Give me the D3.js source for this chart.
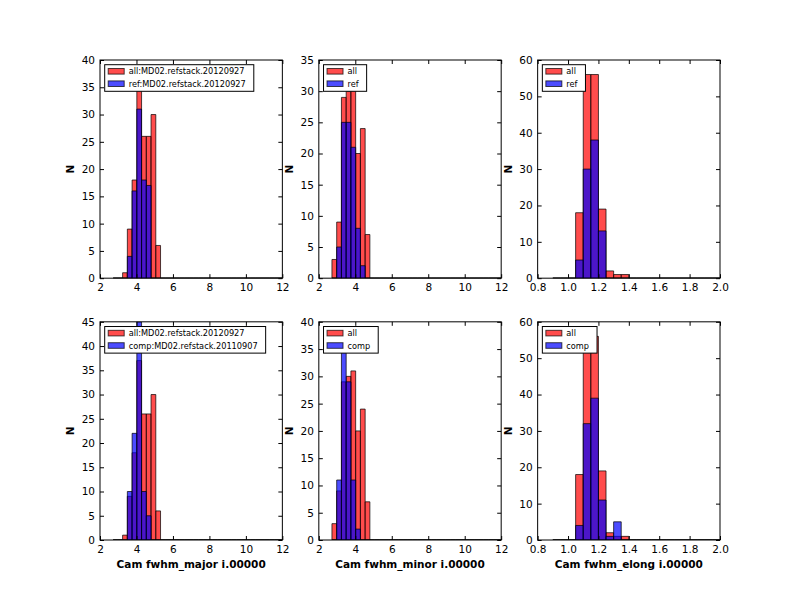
<!DOCTYPE html>
<html>
<head>
<meta charset="utf-8">
<script src="https://cdn.jsdelivr.net/npm/d3@7"></script>
<style>
  body { margin: 0; background: #fff; }
  svg { font-family: "DejaVu Sans", sans-serif; }
</style>
</head>
<body>
<svg id="chart" width="800" height="600"></svg>
<script>
// histogram bins (fwhm_major and fwhm_minor share the same bins)
const fwhmBinStart = 2.72;
const fwhmBinWidth = 0.26;
const elongBinStart = 0.90;
const elongBinWidth = 0.05;

// counts per bin
const majorAll  = [0, 0, 1, 9, 18, 37, 26, 26, 30, 6, 0, 0, 0, 0, 0, 0, 0, 0, 0, 0, 0, 0, 0, 0, 0, 0, 0, 0, 0, 0, 0, 0, 0, 0, 0, 0];
const majorRef  = [0, 0, 0, 4, 16, 31, 18, 17, 0, 0, 0, 0, 0, 0, 0, 0, 0, 0, 0, 0, 0, 0, 0, 0, 0, 0, 0, 0, 0, 0, 0, 0, 0, 0, 0, 0];
const majorComp = [0, 0, 0, 10, 22, 45, 10, 5, 0, 0, 0, 0, 0, 0, 0, 0, 0, 0, 0, 0, 0, 0, 0, 0, 0, 0, 0, 0, 0, 0, 0, 0, 0, 0, 0, 0];
const minorAll  = [3, 9, 29, 30, 31, 20, 24, 7, 0, 0, 0, 0, 0, 0, 0, 0, 0, 0, 0, 0, 0, 0, 0, 0, 0, 0, 0, 0, 0, 0, 0, 0, 0, 0, 0, 0];
const minorRef  = [0, 5, 25, 25, 21, 8, 2, 0, 0, 0, 0, 0, 0, 0, 0, 0, 0, 0, 0, 0, 0, 0, 0, 0, 0, 0, 0, 0, 0, 0, 0, 0, 0, 0, 0, 0];
const minorComp = [0, 11, 39, 29, 11, 2, 0, 0, 0, 0, 0, 0, 0, 0, 0, 0, 0, 0, 0, 0, 0, 0, 0, 0, 0, 0, 0, 0, 0, 0, 0, 0, 0, 0, 0, 0];
const elongAll  = [0, 0, 0, 18, 56, 56, 19, 2, 1, 1, 0, 0, 0, 0, 0, 0, 0, 0, 0, 0, 0, 0];
const elongRef  = [0, 0, 0, 5, 30, 38, 13, 0, 0, 0, 0, 0, 0, 0, 0, 0, 0, 0, 0, 0, 0, 0];
const elongComp = [0, 0, 0, 4, 32, 39, 11, 1, 5, 0, 0, 0, 0, 0, 0, 0, 0, 0, 0, 0, 0, 0];

const fwhmTicks = [2, 4, 6, 8, 10, 12];
const elongTicks = [0.8, 1.0, 1.2, 1.4, 1.6, 1.8, 2.0];

const allName = 'all:MD02.refstack.20120927';
const refName = 'ref:MD02.refstack.20120927';
const compName = 'comp:MD02.refstack.20110907';

const panels = [
  { row: 0, col: 0, start: fwhmBinStart, width: fwhmBinWidth, a: majorAll, b: majorRef, names: [allName, refName], xDomain: [2, 12], xTicks: fwhmTicks, yMax: 40, yStep: 5 },
  { row: 0, col: 1, start: fwhmBinStart, width: fwhmBinWidth, a: minorAll, b: minorRef, names: ['all', 'ref'], xDomain: [2, 12], xTicks: fwhmTicks, yMax: 35, yStep: 5 },
  { row: 0, col: 2, start: elongBinStart, width: elongBinWidth, a: elongAll, b: elongRef, names: ['all', 'ref'], xDomain: [0.8, 2.0], xTicks: elongTicks, yMax: 60, yStep: 10 },
  { row: 1, col: 0, start: fwhmBinStart, width: fwhmBinWidth, a: majorAll, b: majorComp, names: [allName, compName], xDomain: [2, 12], xTicks: fwhmTicks, yMax: 45, yStep: 5, xlabel: 'Cam fwhm_major i.00000' },
  { row: 1, col: 1, start: fwhmBinStart, width: fwhmBinWidth, a: minorAll, b: minorComp, names: ['all', 'comp'], xDomain: [2, 12], xTicks: fwhmTicks, yMax: 40, yStep: 5, xlabel: 'Cam fwhm_minor i.00000' },
  { row: 1, col: 2, start: elongBinStart, width: elongBinWidth, a: elongAll, b: elongComp, names: ['all', 'comp'], xDomain: [0.8, 2.0], xTicks: elongTicks, yMax: 60, yStep: 10, xlabel: 'Cam fwhm_elong i.00000' },
];

const colors = ['#ff0000', '#0000ff'];

// subplot grid like matplotlib defaults (left .125, right .9, bottom .1, top .9, spaces .2)
const gridLeft = 100, gridRight = 720, gridTop = 60, gridBottom = 540;
const colW = (gridRight - gridLeft) / 3.4;
const rowH = (gridBottom - gridTop) / 2.2;

const svg = d3.select('#chart');

panels.forEach((p, i) => {
  const x0 = gridLeft + p.col * colW * 1.2;
  const y0 = gridTop + p.row * rowH * 1.2;
  const g = svg.append('g').attr('transform', `translate(${x0},${y0})`);

  const x = d3.scaleLinear().domain(p.xDomain).range([0, colW]);
  const y = d3.scaleLinear().domain([0, p.yMax]).range([rowH, 0]);

  g.append('clipPath').attr('id', `clip-${i}`)
    .append('rect').attr('width', colW).attr('height', rowH);

  const bars = g.append('g').attr('clip-path', `url(#clip-${i})`);
  [p.a, p.b].forEach((counts, k) => {
    bars.append('g').selectAll('path')
      .data(counts)
      .join('path')
      .attr('d', (c, j) => {
        const xa = x(p.start + j * p.width);
        const xb = x(p.start + (j + 1) * p.width);
        return `M${xa},${y(0)}V${y(c)}H${xb}V${y(0)}Z`;
      })
      .attr('fill', colors[k])
      .attr('fill-opacity', 0.7)
      .attr('stroke', '#000')
      .attr('stroke-opacity', 0.7)
      .attr('stroke-width', 1);
  });

  const yTicks = d3.range(0, p.yMax + 0.001, p.yStep);
  const fmt = p.xDomain[0] < 1 ? d3.format('.1f') : d3.format('d');

  const axes = [
    g.append('g').attr('transform', `translate(0,${rowH})`)
      .call(d3.axisBottom(x).tickValues(p.xTicks).tickSize(-4).tickPadding(5.3).tickFormat(fmt)),
    g.append('g')
      .call(d3.axisTop(x).tickValues(p.xTicks).tickSize(-4).tickFormat('')),
    g.append('g')
      .call(d3.axisLeft(y).tickValues(yTicks).tickSize(-4).tickPadding(5).tickFormat(d3.format('d'))),
    g.append('g').attr('transform', `translate(${colW},0)`)
      .call(d3.axisRight(y).tickValues(yTicks).tickSize(-4).tickFormat('')),
  ];
  axes.forEach((a) => {
    a.select('.domain').remove();
    a.selectAll('line').attr('stroke', '#000');
    a.selectAll('text').attr('font-size', 10.5).attr('font-family', 'DejaVu Sans').attr('fill', '#000');
  });

  g.append('rect')
    .attr('width', colW)
    .attr('height', rowH)
    .attr('fill', 'none')
    .attr('stroke', '#000')
    .attr('stroke-width', 1);

  g.append('text')
    .attr('transform', `translate(-26,${rowH / 2}) rotate(-90)`)
    .attr('text-anchor', 'middle')
    .attr('font-size', 10.5)
    .attr('font-weight', 'bold')
    .text('N');

  if (p.xlabel) {
    g.append('text')
      .attr('x', colW / 2)
      .attr('y', rowH + 28)
      .attr('text-anchor', 'middle')
      .attr('font-size', 10.5)
      .attr('font-weight', 'bold')
      .text(p.xlabel);
  }

  // legend, upper left
  const legend = g.append('g').attr('transform', 'translate(4.7,4.7)');
  const box = legend.append('rect')
    .attr('fill', '#fff')
    .attr('stroke', '#000')
    .attr('stroke-width', 1)
    .attr('height', 26.6);
  const rows = legend.selectAll('.legendRow')
    .data(p.names)
    .join('g')
    .attr('class', 'legendRow')
    .attr('transform', (d, k) => `translate(0,${6.6 + k * 12.4})`);
  rows.append('rect')
    .attr('x', 3.5)
    .attr('y', -2.8)
    .attr('width', 16)
    .attr('height', 5.6)
    .attr('fill', (d, k) => colors[k])
    .attr('fill-opacity', 0.7)
    .attr('stroke', '#000')
    .attr('stroke-opacity', 0.7);
  const labels = rows.append('text')
    .attr('x', 24)
    .attr('y', 3)
    .attr('font-size', 8.2)
    .text((d) => d);
  const maxTextWidth = d3.max(labels.nodes(), (node) => node.getComputedTextLength());
  box.attr('width', 24 + maxTextWidth + 8);
});
</script>
</body>
</html>
